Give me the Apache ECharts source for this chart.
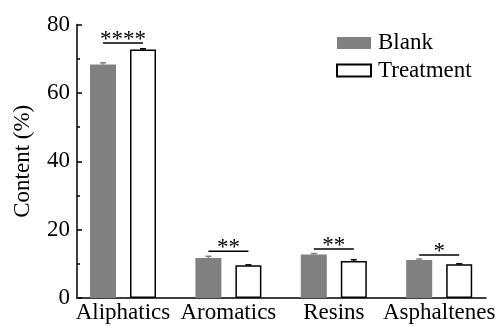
<!DOCTYPE html>
<html>
<head>
<meta charset="utf-8">
<script src="https://cdn.jsdelivr.net/npm/echarts@6/dist/echarts.min.js"></script>
<style>html,body{margin:0;padding:0;background:#fff;}#c{width:499px;height:326px;}</style>
</head>
<body>
<div id="c"></div>
<script>
const categories = ['Aliphatics', 'Aromatics', 'Resins', 'Asphaltenes'];
const blank = [68.3, 11.7, 12.7, 11.1];
const blankErr = [0.5, 0.5, 0.3, 0.3];
const treatment = [72.7, 9.6, 10.8, 9.9];
const treatmentErr = [0.2, 0.1, 0.4, 0.1];
const sigMarks = ['****', '**', '**', '*'];
const sigLevel = [74.6, 13.7, 14.3, 12.6];
const yMin = 0, yMax = 80, yInterval = 20;

const FONT = '"Liberation Serif", "Times New Roman", "DejaVu Serif", serif';
const FS = 23;
const BAR_W = 26, GAP = 14;
const SHIFT = (BAR_W + GAP) / 2;

function errRender(sign, color) {
  return function (params, api) {
    const x = api.value(0), v = api.value(1), e = api.value(2);
    const top = api.coord([x, v + e]);
    const bot = api.coord([x, v]);
    const cx = top[0] + sign * SHIFT;
    const st = { stroke: color, lineWidth: 1.5 };
    return {
      type: 'group', children: [
        { type: 'line', shape: { x1: cx, y1: top[1], x2: cx, y2: bot[1] }, style: st },
        { type: 'line', shape: { x1: cx - 3, y1: top[1], x2: cx + 3, y2: top[1] }, style: st }
      ]
    };
  };
}

const chart = echarts.init(document.getElementById('c'), null, { renderer: 'canvas' });
chart.setOption({
  animation: false,
  backgroundColor: '#fff',
  textStyle: { fontFamily: FONT },
  grid: { left: 77, right: 13, top: 24.5, bottom: 28, containLabel: false },
  legend: {
    orient: 'vertical', left: 336, top: 31, padding: 0, itemGap: 3.5,
    itemWidth: 34, itemHeight: 12, icon: 'rect',
    data: ['Blank', 'Treatment'],
    textStyle: { fontFamily: FONT, fontSize: FS, color: '#000', lineHeight: 24, padding: [0, 0, 0, 2] }
  },
  xAxis: {
    type: 'value', min: -0.4364, max: 3.444,
    splitLine: { show: false },
    axisLine: { show: true, onZero: false, lineStyle: { color: '#000', width: 1.5 } },
    axisTick: { show: false },
    axisLabel: {
      customValues: categories.map((c, i) => i),
      formatter: v => categories[Math.round(v)] || '',
      fontFamily: FONT, fontSize: FS, color: '#000', margin: 3
    }
  },
  yAxis: {
    type: 'value', min: yMin, max: yMax, interval: yInterval,
    name: 'Content (%)', nameLocation: 'middle', nameGap: 43,
    nameTextStyle: { fontFamily: FONT, fontSize: FS, color: '#000' },
    splitLine: { show: false },
    axisLine: { show: true, onZero: false, lineStyle: { color: '#000', width: 1.5 } },
    axisTick: { show: true, inside: true, length: 5, lineStyle: { color: '#000', width: 1.5 } },
    minorTick: { show: true, splitNumber: 2, length: 3, lineStyle: { color: '#000', width: 1.5 } },
    axisLabel: { fontFamily: FONT, fontSize: FS, color: '#000', margin: 7 }
  },
  series: [
    {
      name: 'Blank', type: 'bar', barWidth: BAR_W, barGap: (GAP / BAR_W * 100) + '%',
      itemStyle: { color: '#808080' },
      data: categories.map((c, i) => [i, blank[i]])
    },
    {
      name: 'Treatment', type: 'bar', barWidth: BAR_W, barGap: (GAP / BAR_W * 100) + '%',
      itemStyle: { color: '#fff', borderColor: '#000', borderWidth: 1.5 },
      data: categories.map((c, i) => [i, treatment[i]])
    },
    {
      name: 'blankErr', type: 'custom', z: 3, renderItem: errRender(-1, '#808080'),
      encode: { x: 0, y: 1 },
      data: categories.map((c, i) => [i, blank[i], blankErr[i]])
    },
    {
      name: 'treatErr', type: 'custom', z: 3, renderItem: errRender(1, '#000'),
      encode: { x: 0, y: 1 },
      data: categories.map((c, i) => [i, treatment[i], treatmentErr[i]])
    },
    {
      name: 'sig', type: 'custom', z: 4,
      encode: { x: 0, y: 1 },
      data: categories.map((c, i) => [i, sigLevel[i]]),
      renderItem: function (params, api) {
        const p = api.coord([api.value(0), api.value(1)]);
        return {
          type: 'group', children: [
            { type: 'line', shape: { x1: p[0] - SHIFT, y1: p[1], x2: p[0] + SHIFT, y2: p[1] },
              style: { stroke: '#000', lineWidth: 1.5 } },
            { type: 'text', x: p[0], y: p[1] - 3,
              style: { text: sigMarks[params.dataIndex], fill: '#000', font: FS + 'px ' + FONT,
                       align: 'center', verticalAlign: 'middle' } }
          ]
        };
      }
    }
  ]
});
</script>
</body>
</html>
